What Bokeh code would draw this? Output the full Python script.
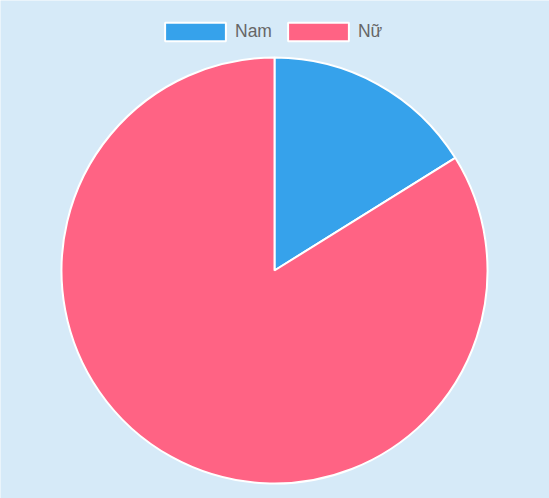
import math
from bokeh.plotting import figure
from bokeh.models import ColumnDataSource, Legend, LegendItem, Range1d
from bokeh.embed import file_html
from bokeh.resources import INLINE

categories = ["Nam", "Nữ"]
values = [5, 26]
colors = ["#36a2eb", "#ff6384"]

BG = "#d6eaf8"
W, H = 549, 498

total = sum(values)
starts, ends = [], []
acc = 0.0
for v in values:
    s = math.pi / 2 - 2 * math.pi * acc / total
    acc += v
    e = math.pi / 2 - 2 * math.pi * acc / total
    starts.append(s)
    ends.append(e)

src = ColumnDataSource(dict(cat=categories, val=values, color=colors,
                            start=starts, end=ends))

p = figure(width=W, height=H, output_backend="svg", toolbar_location=None,
           x_range=Range1d(0, W), y_range=Range1d(0, H), min_border=0,
           background_fill_color=BG, border_fill_color=BG)
p.outline_line_color = None
p.axis.visible = False
p.grid.visible = False

cx, cy, r = 274, 228, 213
p.wedge(x=cx, y=cy, radius=r, radius_units="screen", start_angle="start", end_angle="end",
        direction="clock", fill_color="color", line_color="white", line_width=2, source=src)

items = []
for c, col in zip(categories, colors):
    rr = p.rect(x=[float("nan")], y=[float("nan")], width=1, height=1,
                fill_color=col, line_color="white", line_width=2)
    items.append(LegendItem(label=c, renderers=[rr]))

leg = Legend(items=items, orientation="horizontal", location=(137, 435),
             glyph_width=76, glyph_height=23, label_standoff=2, spacing=8,
             label_text_font="Liberation Sans", label_text_font_size="17.5px",
             label_text_color="#666666", background_fill_alpha=0, border_line_alpha=0,
             margin=0, padding=20, label_height=20)
p.add_layout(leg, "center")

html = file_html(p, INLINE)
html = html.replace("<body>", '<body style="background:%s;margin:0;overflow:hidden">' % BG, 1)
open("out.html", "w").write(html)
